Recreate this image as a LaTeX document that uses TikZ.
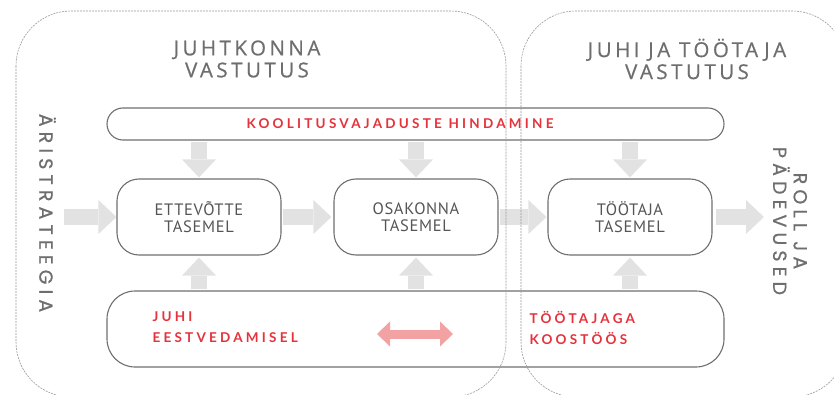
\documentclass[tikz,border=0pt]{standalone}
\usepackage{fontspec}
\usetikzlibrary{arrows.meta,calc}
\setmainfont{Open Sans}
\newfontfamily\titlefont{Open Sans}[LetterSpace=17,FakeBold=0.6]
\newfontfamily\boxfont{PT Sans}[LetterSpace=4]
\newfontfamily\redfont{Lato}[LetterSpace=24,BoldFont={Lato Bold}]
\newfontfamily\sidefont{Poppins}[LetterSpace=27,FakeBold=0.8]

\definecolor{panelline}{HTML}{9A9A9A}
\definecolor{boxline}{HTML}{6E6E6E}
\definecolor{arrowgray}{HTML}{E2E2E2}
\definecolor{accent}{HTML}{E5323B}
\definecolor{pinkarrow}{HTML}{F2A2A2}
\definecolor{titlegray}{HTML}{6E6E6E}
\definecolor{textgray}{HTML}{555555}

\tikzset{
  panel/.style={draw=panelline, line width=0.6pt, dash pattern=on 2pt off 1pt, rounded corners=55pt},
  bar/.style={draw=boxline, line width=1.1pt, inner sep=0pt},
  levelbox/.style={draw=boxline, line width=1.1pt, rounded corners=22pt, minimum width=164pt,
    minimum height=76pt, inner sep=0pt, align=center, font=\boxfont\fontsize{16.5}{17}\selectfont, text=textgray},
  title/.style={align=center, text=titlegray, font=\titlefont\fontsize{20.5}{22}\selectfont},
  redlabel/.style={text=accent, align=left, font=\redfont\bfseries\fontsize{13.5}{21}\selectfont},
  sidelabel/.style={text=titlegray, align=center, rotate=-90, font=\sidefont\fontsize{19}{20.5}\selectfont},
  fat/.style={draw=arrowgray, line width=16pt, line cap=butt,
    -{Triangle[width=34pt,length=18pt,line width=0pt,fill=arrowgray]}},
  both/.style={draw=pinkarrow, line width=9pt, line cap=butt,
    {Triangle[width=25pt,length=13pt,line width=0pt,fill=pinkarrow]}-{Triangle[width=25pt,length=13pt,line width=0pt,fill=pinkarrow]}}
}

\begin{document}
\begin{tikzpicture}[x=1pt,y=-1pt]
\useasboundingbox (0,0) rectangle (834,395);

% responsibility titles
\node[title] (t1) at (247,59) {JUHTKONNA\\VASTUTUS};
\node[title] (t2) at (687,59) {JUHI JA TÖÖTAJA\\VASTUTUS};

% assessment bar and cooperation bar
\node[bar, rounded corners=16pt, minimum width=617pt, minimum height=32pt] (top) at (415.5,124) {};
\node[text=accent, font=\redfont\bfseries\fontsize{13.5}{16}\selectfont] (toplbl) at (400,124) {KOOLITUSVAJADUSTE HINDAMINE};
\node[bar, rounded corners=28pt, minimum width=617pt, minimum height=76pt] (bot) at (415.5,329) {};
\node[redlabel, anchor=west] (lead) at (149,327.5) {JUHI\\EESTVEDAMISEL};
\node[redlabel, anchor=west] (coop) at (526,327.5) {TÖÖTAJAGA\\KOOSTÖÖS};

% the three levels
\node[levelbox] (b1) at (199,217) {ETTEVÕTTE\\TASEMEL};
\node[levelbox] (b2) at (416,217) {OSAKONNA\\TASEMEL};
\node[levelbox] (b3) at (630,217) {TÖÖTAJA\\TASEMEL};

% strategy in, role out
\node[sidelabel] (strat) at (47.5,213) {ÄRISTRATEEGIA};
\node[sidelabel] (role) at (790,221) {ROLL JA\\PÄDEVUSED};
\coordinate (in) at (64,217);
\coordinate (out) at (764,217);

% flow arrows
\draw[fat] (in) -- (b1.west);
\draw[fat, shorten <=1.5pt, shorten >=2pt] (b1.east) -- (b2.west);
\draw[fat, shorten <=1.5pt, shorten >=1pt] (b2.east) -- (b3.west);
\draw[fat, shorten <=3pt] (b3.east) -- (out);
\foreach \b in {b1,b2,b3}{
  \draw[fat, shorten <=1pt, shorten >=1pt] (top.south -| \b.north) -- (\b.north);
  \draw[fat, shorten <=1pt, shorten >=2pt] (bot.north -| \b.south) -- (\b.south);
}

% two-way link
\coordinate (l1) at (377,334);
\coordinate (l2) at (453,334);
\draw[both] (l1) -- (l2);

% responsibility areas
\draw[panel] (16,11) rectangle (506,397);
\draw[panel] (521,11) rectangle (847,397);
\end{tikzpicture}
\end{document}
